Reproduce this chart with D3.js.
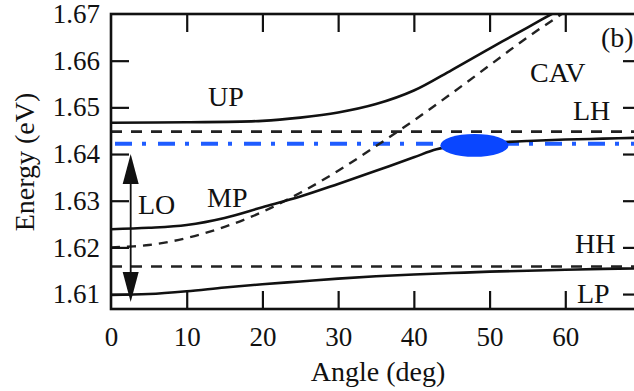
<!DOCTYPE html>
<html>
<head>
<meta charset="utf-8">
<script src="https://cdn.jsdelivr.net/npm/d3@7"></script>
<style>
  html, body { margin: 0; padding: 0; background: #fff; }
  svg { display: block; font-family: "Liberation Serif", "Times New Roman", serif; }
</style>
</head>
<body>
<svg id="chart" width="634" height="391"></svg>
<script>
// Polariton dispersion vs. incidence angle
const xTicks = [0, 10, 20, 30, 40, 50, 60];
const yTicks = [1.61, 1.62, 1.63, 1.64, 1.65, 1.66, 1.67];

// bare cavity mode (dashed)
const cavAngle  = [0, 5, 10, 15, 20, 25, 30, 35, 40, 45, 50, 55, 60, 65];
const cavEnergy = [1.6200, 1.6205, 1.6220, 1.6244, 1.6276, 1.6317, 1.6364, 1.6417,
                   1.6472, 1.6530, 1.6590, 1.6650, 1.6705, 1.6760];

// upper polariton
const upAngle  = [0, 10, 20, 25, 30, 35, 40, 45, 50, 55, 58.2, 62];
const upEnergy = [1.6467, 1.6468, 1.6471, 1.6478, 1.6489, 1.6507, 1.6536, 1.6580,
                  1.6626, 1.6671, 1.6700, 1.6734];

// middle polariton
const mpAngle  = [0, 5, 10, 15, 20, 25, 30, 35, 40, 43, 46, 50, 55, 60, 65, 70];
const mpEnergy = [1.6239, 1.6242, 1.6248, 1.6263, 1.6286, 1.6309, 1.6336, 1.6364,
                  1.6393, 1.6410, 1.6419, 1.6424, 1.6428, 1.6431, 1.6433, 1.6435];

// lower polariton
const lpAngle  = [0, 5, 10, 15, 20, 25, 30, 35, 40, 45, 50, 55, 60, 65, 70];
const lpEnergy = [1.6098, 1.6100, 1.6106, 1.6114, 1.6121, 1.6127, 1.6133, 1.6138,
                  1.6142, 1.6145, 1.6148, 1.6150, 1.6152, 1.6154, 1.6155];

// exciton levels
const lhEnergy = 1.6448;
const hhEnergy = 1.6159;
const loEnergy = 1.6422;

// condensate spot and LO-phonon arrow
const spotAngle  = [43.5, 52.5];
const spotEnergy = [1.6394, 1.6443];
const loArrowAngle  = 2.6;
const loArrowEnergy = [1.6400, 1.6083];

const svg = d3.select("#chart");
const x = d3.scaleLinear().domain([0, 70]).range([111, 641]);
const y = d3.scaleLinear().domain([1.6068, 1.67]).range([309, 14]);

const ink = "#111";

// clip region for the plot interior
svg.append("defs").append("clipPath").attr("id", "plotClip")
  .append("rect")
  .attr("x", x(0)).attr("y", y(1.67))
  .attr("width", x(70) - x(0)).attr("height", y(1.6068) - y(1.67));

const plot = svg.append("g").attr("clip-path", "url(#plotClip)");

const line = d3.line()
  .x(d => x(d[0])).y(d => y(d[1]))
  .curve(d3.curveCatmullRom.alpha(0.5));

// horizontal exciton levels
[lhEnergy, hhEnergy].forEach(e => {
  plot.append("line")
    .attr("x1", x(0)).attr("x2", x(70))
    .attr("y1", y(e)).attr("y2", y(e))
    .attr("stroke", "#222").attr("stroke-width", 2.6).attr("stroke-dasharray", "11,9");
});

// LO replica (blue dash-dot)
plot.append("line")
  .attr("x1", x(0) + 4).attr("x2", x(70))
  .attr("y1", y(loEnergy)).attr("y2", y(loEnergy))
  .attr("stroke", "#1f5cff").attr("stroke-width", 4)
  .attr("stroke-dasharray", "17,10,4,12");

// cavity mode
plot.append("path")
  .datum(d3.zip(cavAngle, cavEnergy))
  .attr("d", line)
  .attr("fill", "none").attr("stroke", "#222")
  .attr("stroke-width", 2.4).attr("stroke-dasharray", "9,7");

// polariton branches
[[upAngle, upEnergy], [mpAngle, mpEnergy], [lpAngle, lpEnergy]].forEach(([a, e]) => {
  plot.append("path")
    .datum(d3.zip(a, e))
    .attr("d", line)
    .attr("fill", "none").attr("stroke", ink).attr("stroke-width", 2.6);
});

// condensate spot
plot.append("ellipse")
  .attr("cx", (x(spotAngle[0]) + x(spotAngle[1])) / 2)
  .attr("cy", (y(spotEnergy[0]) + y(spotEnergy[1])) / 2)
  .attr("rx", (x(spotAngle[1]) - x(spotAngle[0])) / 2)
  .attr("ry", (y(spotEnergy[0]) - y(spotEnergy[1])) / 2)
  .attr("fill", "#0a46ff");

// LO double arrow
const ax = x(loArrowAngle);
const yTop = y(loArrowEnergy[0]), yBot = y(loArrowEnergy[1]);
const headL = 30, headW = 8;
plot.append("line")
  .attr("x1", ax).attr("x2", ax)
  .attr("y1", yTop + headL - 2).attr("y2", yBot - headL + 2)
  .attr("stroke", ink).attr("stroke-width", 1.8);
plot.append("path")
  .attr("d", `M${ax},${yTop} L${ax - headW},${yTop + headL} L${ax + headW},${yTop + headL} Z`)
  .attr("fill", ink);
plot.append("path")
  .attr("d", `M${ax},${yBot} L${ax - headW},${yBot - headL} L${ax + headW},${yBot - headL} Z`)
  .attr("fill", ink);

// axes with inward ticks
const tickLen = 18;
const axB = svg.append("g").attr("transform", `translate(0,${y(1.6068)})`)
  .call(d3.axisBottom(x).tickValues(xTicks).tickSize(-tickLen).tickPadding(18).tickFormat(d3.format("d")));
const axT = svg.append("g").attr("transform", `translate(0,${y(1.67)})`)
  .call(d3.axisTop(x).tickValues(xTicks.slice(1)).tickSize(-tickLen).tickFormat(""));
const axL = svg.append("g").attr("transform", `translate(${x(0)},0)`)
  .call(d3.axisLeft(y).tickValues(yTicks).tickSize(-tickLen).tickPadding(11).tickFormat(d3.format(".2f")));
const axR = svg.append("g").attr("transform", `translate(${x(70)},0)`)
  .call(d3.axisRight(y).tickValues(yTicks.slice(0, -1)).tickSize(-tickLen).tickFormat(""));

[axB, axT, axL, axR].forEach(g => {
  g.select(".domain").remove();
  g.selectAll(".tick line").attr("stroke", ink).attr("stroke-width", 2.2);
  g.selectAll(".tick text").attr("fill", ink)
    .style("font-family", "Liberation Serif").style("font-size", "27px");
});
axL.selectAll(".tick").filter(d => d === 1.67).select("line").remove();
axB.selectAll(".tick").filter(d => d === 0).select("line").remove();

// frame
svg.append("rect")
  .attr("x", x(0)).attr("y", y(1.67))
  .attr("width", x(70) - x(0)).attr("height", y(1.6068) - y(1.67))
  .attr("fill", "none").attr("stroke", ink).attr("stroke-width", 2.6);

// axis titles
svg.append("text")
  .attr("x", 378).attr("y", 381)
  .attr("text-anchor", "middle")
  .attr("fill", ink).style("font-size", "28px")
  .text("Angle (deg)");
svg.append("text")
  .attr("transform", "translate(34,162) rotate(-90)")
  .attr("text-anchor", "middle")
  .attr("fill", ink).style("font-size", "28px")
  .text("Energy (eV)");

// branch and level labels
const labels = [
  ["UP", 208, 106], ["MP", 207, 207], ["LO", 138, 214],
  ["CAV", 530, 82], ["LH", 573, 120], ["(b)", 601, 47],
  ["HH", 575, 253], ["LP", 577, 303]
];
svg.append("g").selectAll("text")
  .data(labels)
  .join("text")
  .attr("x", d => d[1]).attr("y", d => d[2])
  .attr("fill", ink).style("font-size", "28px")
  .text(d => d[0]);
</script>
</body>
</html>
